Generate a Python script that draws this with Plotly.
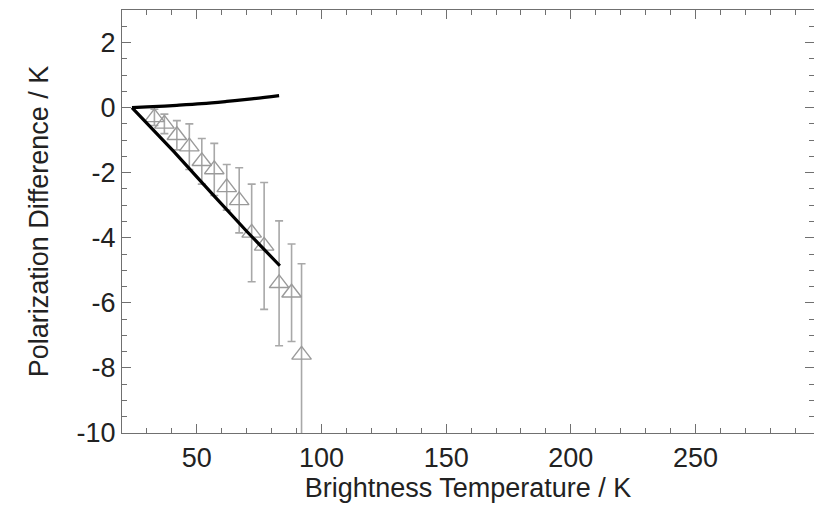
import plotly.graph_objects as go

# Observed points (triangles with error bars)
obs_x = [33, 37, 42, 47, 52, 57, 62, 67, 72, 77, 83, 88, 92]
obs_y = [-0.3, -0.5, -0.85, -1.2, -1.65, -1.9, -2.45, -2.85, -3.85, -4.25, -5.4, -5.69, -7.6]
obs_err = [0.25, 0.3, 0.45, 0.7, 0.7, 0.8, 0.7, 1.0, 1.5, 1.95, 1.92, 1.5, 2.8]

# Model curves
upper_x = [24, 30, 42, 52, 62, 72, 83]
upper_y = [0.0, 0.02, 0.07, 0.12, 0.19, 0.27, 0.37]
lower_x = [24, 41, 57, 70, 83.3]
lower_y = [0.0, -1.37, -2.72, -3.8, -4.86]

x_tick_vals = [50, 100, 150, 200, 250]
x_tick_text = ["50", "100", "150", "200", "250"]
y_tick_vals = [2, 0, -2, -4, -6, -8, -10]
y_tick_text = ["2", "0", "-2", "-4", "-6", "-8", "-10"]

FONT = "Liberation Sans, Arial, Helvetica, sans-serif"
AX = "#707070"

fig = go.Figure()
fig.add_trace(go.Scatter(
    x=obs_x, y=obs_y, mode="markers",
    marker=dict(symbol="triangle-up-open", size=17, color="#9a9a9a", line=dict(width=1.4, color="#9a9a9a")),
    error_y=dict(type="data", array=obs_err, visible=True, color="#a8a8a8", thickness=1.6, width=4),
    showlegend=False, cliponaxis=True,
))
fig.add_trace(go.Scatter(x=upper_x, y=upper_y, mode="lines",
                         line=dict(color="black", width=3.2, shape="spline"), showlegend=False))
fig.add_trace(go.Scatter(x=lower_x, y=lower_y, mode="lines",
                         line=dict(color="black", width=3.2), showlegend=False))

fig.update_layout(
    width=814, height=512,
    margin=dict(l=122, r=0, t=10, b=79),
    paper_bgcolor="white", plot_bgcolor="white",
    font=dict(family=FONT, size=27, color="#222222"),
)
fig.update_xaxes(
    range=[20, 297.5], tickvals=x_tick_vals, ticktext=x_tick_text,
    ticks="inside", ticklen=9, tickwidth=1, tickcolor=AX,
    minor=dict(dtick=10, tick0=0, ticks="inside", ticklen=5, tickcolor=AX, tickwidth=1),
    showline=True, linecolor=AX, linewidth=1.2, mirror="ticks",
    showgrid=False, zeroline=False,
    title=dict(text="Brightness Temperature / K", standoff=6, font=dict(size=27)),
    tickfont=dict(size=27),
)
fig.update_yaxes(
    range=[-10, 3], tickvals=y_tick_vals, ticktext=y_tick_text,
    ticks="inside", ticklen=9, tickwidth=1, tickcolor=AX,
    minor=dict(dtick=0.5, tick0=0, ticks="inside", ticklen=5, tickcolor=AX, tickwidth=1),
    showline=True, linecolor=AX, linewidth=1.2, mirror="ticks",
    showgrid=False, zeroline=False,
    title=dict(text="Polarization Difference / K", standoff=20, font=dict(size=27)),
    tickfont=dict(size=27),
)

fig.write_html("out.html")
